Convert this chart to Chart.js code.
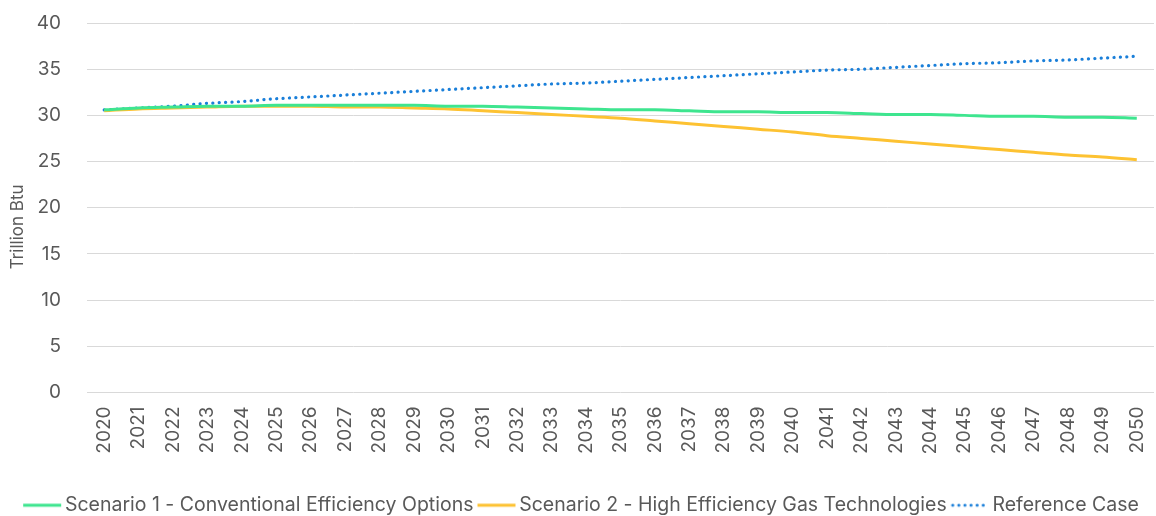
<!DOCTYPE html>
<html>
<head>
<meta charset="utf-8">
<script src="https://cdn.jsdelivr.net/npm/chart.js@4"></script>
<style>
  html, body { margin: 0; padding: 0; background: #fff; }
  #wrap { width: 1156px; height: 516px; position: relative; }
</style>
</head>
<body>
<div id="wrap"><canvas id="chart"></canvas></div>
<script>
// 데이터
const years = ['2020','2021','2022','2023','2024','2025','2026','2027','2028','2029','2030',
  '2031','2032','2033','2034','2035','2036','2037','2038','2039','2040',
  '2041','2042','2043','2044','2045','2046','2047','2048','2049','2050'];

const scenario1 = [30.6, 30.8, 30.9, 31.0, 31.0, 31.1, 31.1, 31.1, 31.1, 31.1, 31.0,
  31.0, 30.9, 30.8, 30.7, 30.6, 30.6, 30.5, 30.4, 30.4, 30.3,
  30.3, 30.2, 30.1, 30.1, 30.0, 29.9, 29.9, 29.8, 29.8, 29.7];

const scenario2 = [30.5, 30.7, 30.8, 30.9, 31.0, 31.0, 31.0, 30.9, 30.9, 30.8, 30.7,
  30.5, 30.3, 30.1, 29.9, 29.7, 29.4, 29.1, 28.8, 28.5, 28.2,
  27.8, 27.5, 27.2, 26.9, 26.6, 26.3, 26.0, 25.7, 25.5, 25.2];

const referenceCase = [30.6, 30.8, 31.0, 31.3, 31.5, 31.8, 32.0, 32.2, 32.4, 32.6, 32.8,
  33.0, 33.2, 33.4, 33.5, 33.7, 33.9, 34.1, 34.3, 34.5, 34.7,
  34.9, 35.0, 35.2, 35.4, 35.6, 35.7, 35.9, 36.0, 36.2, 36.4];

const textColor = '#595959';
const fontFamily = 'Inter, "Noto Sans", sans-serif';

// 범례용 선 아이콘 (박스 폭 32, 선 길이 38)
function legendIcon(color, dotted) {
  const c = document.createElement('canvas');
  c.width = 80;
  c.height = 6;
  const g = c.getContext('2d');
  g.strokeStyle = color;
  g.lineWidth = 3;
  g.beginPath();
  if (dotted) {
    g.lineCap = 'round';
    g.setLineDash([0.1, 6]);
    g.moveTo(26, 3);
    g.lineTo(62, 3);
  } else {
    g.moveTo(24, 3);
    g.lineTo(62, 3);
  }
  g.stroke();
  return c;
}

const ctx = document.getElementById('chart').getContext('2d');
const chart = new Chart(ctx, {
  type: 'line',
  data: {
    labels: years,
    datasets: [{
      label: 'Scenario 1 - Conventional Efficiency Options',
      data: scenario1,
      borderColor: '#3ee58f',
      backgroundColor: '#3ee58f',
      borderWidth: 3,
      pointRadius: 0,
      pointStyle: legendIcon('#3ee58f', false),
      cubicInterpolationMode: 'monotone'
    }, {
      label: 'Scenario 2 - High Efficiency Gas Technologies',
      data: scenario2,
      borderColor: '#fdc232',
      backgroundColor: '#fdc232',
      borderWidth: 3,
      pointRadius: 0,
      pointStyle: legendIcon('#fdc232', false),
      cubicInterpolationMode: 'monotone'
    }, {
      label: 'Reference Case',
      data: referenceCase,
      borderColor: '#1a7fd9',
      backgroundColor: '#1a7fd9',
      borderWidth: 3.2,
      borderDash: [0.1, 6.3],
      borderCapStyle: 'round',
      pointRadius: 0,
      pointStyle: legendIcon('#1a7fd9', true),
      cubicInterpolationMode: 'monotone'
    }]
  },
  options: {
    responsive: true,
    maintainAspectRatio: false,
    animation: false,
    layout: { padding: { left: 8, right: 2, top: 23, bottom: -9 } },
    scales: {
      x: {
        offset: true,
        grid: { display: false, drawTicks: false },
        border: { display: false },
        ticks: {
          color: textColor,
          font: { family: fontFamily, size: 19 },
          maxRotation: 90,
          minRotation: 90,
          autoSkip: false,
          padding: 14
        },
        afterFit: (scale) => {
          scale.paddingLeft = 0;
          scale.paddingRight = 0;
          scale.height = 99;
        }
      },
      y: {
        min: 0,
        max: 40,
        ticks: {
          stepSize: 5,
          color: textColor,
          font: { family: fontFamily, size: 19 },
          padding: 26
        },
        grid: { color: '#d9d9d9', drawTicks: false },
        border: { display: false },
        title: {
          display: true,
          text: 'Trillion Btu        ',
          color: textColor,
          font: { family: fontFamily, size: 17 },
          padding: 0
        },
        afterFit: (scale) => {
          scale.width = 79;
          scale.paddingTop = 0;
          scale.paddingBottom = 0;
        }
      }
    },
    plugins: {
      legend: {
        display: true,
        position: 'bottom',
        labels: {
          usePointStyle: true,
          pointStyleWidth: 32,
          color: textColor,
          font: { family: fontFamily, size: 19.5 },
          padding: 4
        }
      },
      tooltip: { enabled: false }
    }
  }
});
</script>
</body>
</html>
